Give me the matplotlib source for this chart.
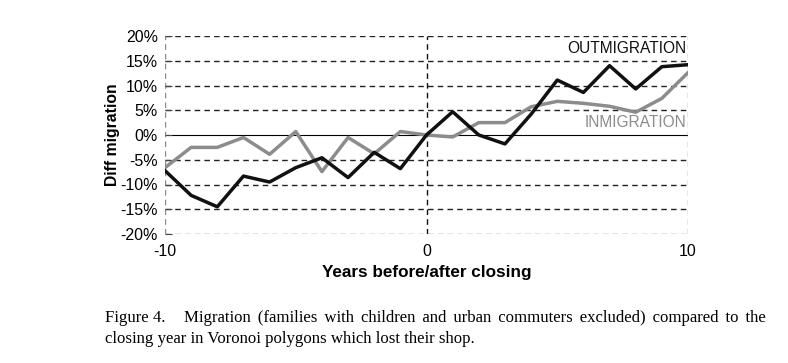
import math
import matplotlib
matplotlib.use("Agg")
import matplotlib.pyplot as plt

years = list(range(-10, 11))
outmigration = [-7.2, -12.2, -14.5, -8.3, -9.5, -6.6, -4.6, -8.6, -3.5, -6.8, 0.0,
                4.7, 0.0, -1.8, 4.2, 11.1, 8.6, 14.0, 9.3, 13.8, 14.2]
inmigration = [-6.6, -2.5, -2.5, -0.5, -3.9, 0.7, -7.4, -0.5, -3.8, 0.7, 0.0,
               -0.4, 2.5, 2.5, 5.7, 6.8, 6.4, 5.8, 4.6, 7.4, 12.6]
yticks = [-20, -15, -10, -5, 0, 5, 10, 15, 20]
ytick_labels = ["-20%", "-15%", "-10%", "-5%", "0%", "5%", "10%", "15%", "20%"]
xticks = [-10, 0, 10]
xtick_labels = ["-10", "0", "10"]
caption_label = "Figure 4."
caption_line1 = "Migration (families with children and urban commuters excluded) compared to the"
caption_line2 = "closing year in Voronoi polygons which lost their shop."

plt.rcParams['font.family'] = ['Liberation Sans', 'DejaVu Sans']

W, H = 788, 363
fig = plt.figure(figsize=(W/100, H/100), dpi=100)
ax = fig.add_axes([165/W, 1-234/H, (688-165)/W, (234-36)/H])

ax.set_xlim(-10, 10)
ax.set_ylim(-20, 20)

for sp in ax.spines.values():
    sp.set_visible(False)

dash = (0, (4, 3))
for y in yticks:
    if y == 0:
        ax.axhline(0, color='black', lw=0.8, zorder=1)
    elif y == -20:
        ax.axhline(y, color='#777777', lw=1.0, ls=dash, zorder=1)
    else:
        ax.axhline(y, color='#222222', lw=1.0, ls=dash, zorder=1)
ax.axvline(-10, color='#888888', lw=1.0, ls=dash, zorder=1)
ax.axvline(10, color='#888888', lw=1.0, ls=dash, zorder=1)
ax.axvline(0, color='#111111', lw=1.0, ls=dash, zorder=1)

ax.plot(years, inmigration, color='#8c8c8c', lw=2.5, zorder=3)
ax.plot(years, outmigration, color='#111111', lw=2.5, zorder=4)

ax.text(9.95, 17.4, "OUTMIGRATION", color='#111111', fontsize=11.2,
        ha='right', va='center')
ax.text(9.95, 2.6, "INMIGRATION", color='#8c8c8c', fontsize=11.2,
        ha='right', va='center')

ax.set_yticks(yticks)
ax.set_yticklabels(ytick_labels, fontsize=11.5)
ax.set_xticks(xticks)
ax.set_xticklabels(xtick_labels, fontsize=11.5)
ax.tick_params(axis='y', direction='in', length=5, width=0.8, color='#444444', pad=5)
ax.tick_params(axis='x', length=0, pad=7)

ax.set_ylabel("Diff migration", fontsize=11.3, fontweight='bold')
ax.yaxis.set_label_coords((120-165)/(688-165), 0.5)
ax.set_xlabel("Years before/after closing", fontsize=12.3, fontweight='bold')
ax.xaxis.set_label_coords(0.5, -(273-234)/(234-36))
ax.xaxis.label.set_va('center')

# Caption: first line justified between x=105 and x=776
cap_fs = 12.1
serif = ['Liberation Serif', 'DejaVu Serif']
left, right = 105, 776
y1, y2 = 1-322/H, 1-343/H
renderer = fig.canvas.get_renderer()


def text_width(s):
    t = fig.text(0, 0, s, family=serif, fontsize=cap_fs)
    w = t.get_window_extent(renderer).width
    t.remove()
    return w


label_gap = 18
label_w = text_width(caption_label)
words = caption_line1.split(" ")
base_w = text_width(caption_line1)
target_w = (right - left) - label_w - label_gap
hair = "\u200a"
hair_w = (text_width("a" + hair * 10 + "a") - text_width("aa")) / 10
extra_per_gap = (target_w - base_w) / (len(words) - 1)
n_hair = max(0, int(math.floor(extra_per_gap / hair_w))) if hair_w > 0 else 0
justified = (" " + hair * n_hair).join(words)

fig.text(left/W, y1, caption_label, family=serif, fontsize=cap_fs,
         va='baseline', ha='left')
fig.text((left + label_w + label_gap)/W, y1, justified, family=serif,
         fontsize=cap_fs, va='baseline', ha='left')
fig.text(left/W, y2, caption_line2, family=serif,
         fontsize=cap_fs, va='baseline', ha='left')

fig.savefig("out.png", dpi=100)
